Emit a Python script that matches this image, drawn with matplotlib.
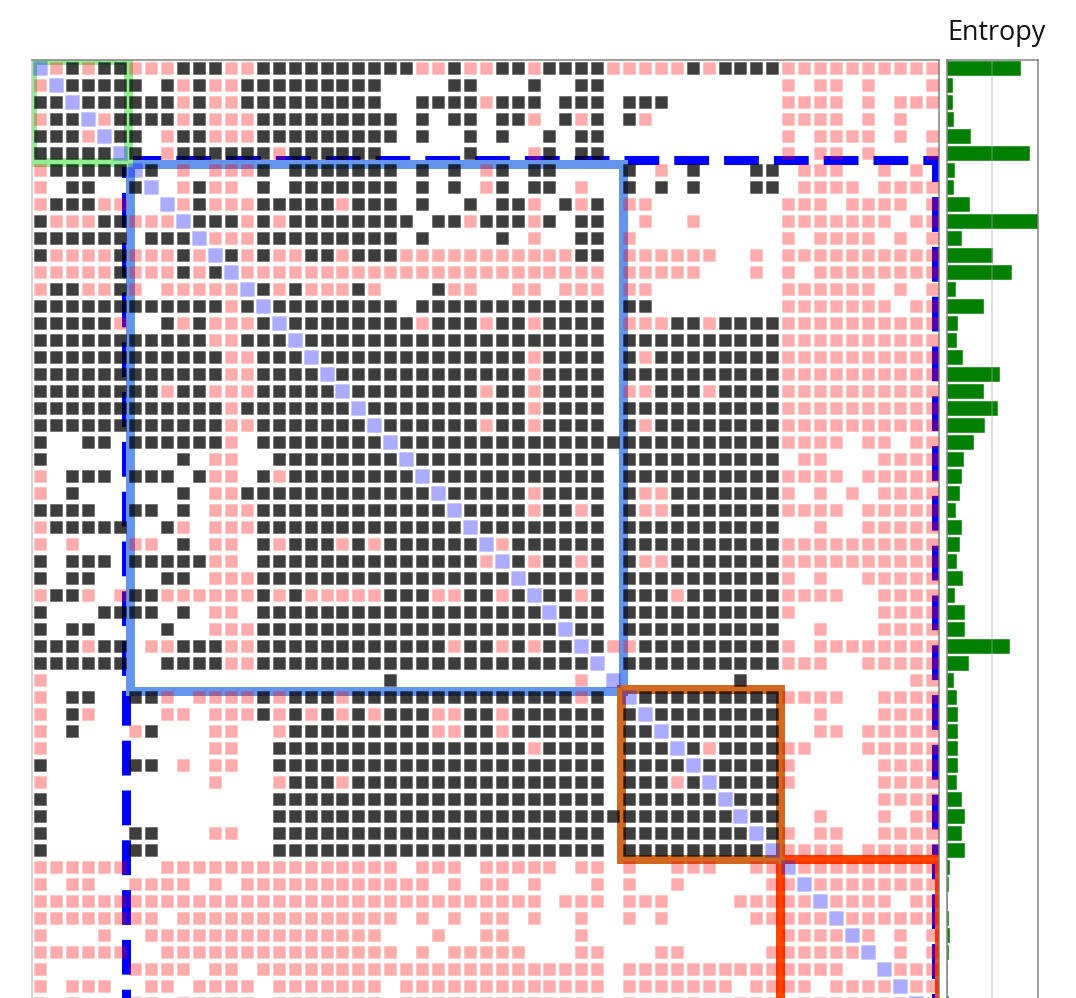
import numpy as np
import matplotlib
matplotlib.use("Agg")
import matplotlib.pyplot as plt
from matplotlib.patches import Rectangle

plt.rcParams["font.family"] = ["Open Sans", "DejaVu Sans"]

# cell states per row: # dark, p pink, D diagonal, . empty (spaces only split every 10 columns)
ROWS = [
    "Dp#p##ppp# ##pp###### ####pp#pp# #p####pppp p#p####ppp ppppppp",
    "pD#####.#p #pp####### ##....##.. .#..##.... .......p.p p.p...p",
    "##D######p #pp####### ##..####p# ##.###.### .......ppp p.p.ppp",
    "p##Dp####p #ppp###### ###.#.##.# #p.#p#.#p. .......ppp p.p.p..",
    "###pD##.p# #ppp###### ###.#..#.# ..#.##.... .......p.p ppp.p.p",
    "#####D#.p# #####p#### ##.....#.. .p#.##.... .......p.p p.p...p",
    "p#####D#.p .ppp#.#### ###.#.#.p# .##....#.p .#...##.pp p..p.p.",
    "p.##..#D.p #pp.#.#### ###.#.#.p# .##.p..#.# .#...##.pp pp.pppp",
    "p###pp..Dp #ppp#####p ###.#..#.# #p.#p#.pp. .......ppp .pppp.p",
    "#ppp##pppD ###p#p#### ####.##p## #p#.##..p. .p.....ppp pppp.pp",
    "######.### Dppp###### ###.#....# .p..##.p.. .......p.p ppp.p.p",
    "#pppp#ppp# pD#p#pp##p ###ppppppp pppp##.ppp ppp..p.ppp ppppppp",
    "ppppp#ppp# p#Dppppppp pppppppppp pppppp.ppp pp...p.p.p ppppppp",
    "p##pp#p.pp pppD#p#ppp #p...#pp.. pp.ppp.pp. .......ppp ppp.p.p",
    "########## ##p#D##### ###.###### ######.##. .......ppp pppp.pp",
    "#####p..#p #ppp#D#### ####p###p# #p####.ppp ##p####ppp ppppppp",
    "########## #pp###D### ########## ######.### #######ppp ppppppp",
    "########## ##pp###D## ########## #p####.#p# #######ppp ppppppp",
    "########## ##pp####D# ########## #p####.### #######ppp ppppppp",
    "########p# #ppp#####D ########p# #p####.pp# ##p####ppp ppppppp",
    "########## ##p####### D######### #p####.### #######ppp ppppppp",
    "########## ##pp###### #D######p# #p####.#p# #######ppp ppppppp",
    "#..##.#### ##p.###### ##D####### ########## #######ppp p.pp.pp",
    "#........# .pp..##### ###D###### ######.### #######.pp ...pppp",
    "p.###.###. #pp.#p#### ####D##### ######.### #######ppp p.ppppp",
    "p.#......# .pp####### #####D#### #p####.#pp #######p.p .p.pppp",
    "####..##.# .ppp###### ######D### #p##p#.#pp #######ppp p.ppppp",
    "p#####..#p .ppp###### #######D## ######.### #######..p ..ppppp",
    "p.p...pp.# .pp.#p###p #p######Dp ######.### #######ppp ppppppp",
    "#.###.#### #pp.###### ########pD #p##p#.#pp #######ppp ppppppp",
    "#.##....## .ppp###### ########## D#####.### #######p.p ..ppppp",
    "p##p.p##pp pppp#p#ppp pp###pp##p #D##p#.### p######ppp p..pppp",
    "#...####.# .pp.###### ########## ##D###.### #######p.. ...pppp",
    "#.##....#. .ppp###### ########## ###D##.### #######..p ...pppp",
    "###p##.pp# ##pp###### ######p##p #p##D#pp## #######p.p ppppppp",
    "######..## ##pp###### ########## #####D.### #######ppp ..ppppp",
    "p......... .......... ..#....... ....p.D... ....#..... .....pp",
    "p.##..##p. pppp#p###p ########## ####p#.D## #######ppp p..pppp",
    "p.#p....pp .ppp#p#p#p #p###pp##p ######.#D# #######..p ...pppp",
    "p.#...p#.. .pp..p#### #####pp##p ######.##D #######..p p.ppppp",
    "p......... .pp..##### ########## #p####.### D#p####pp. ..ppppp",
    "#.....##.p .pp..##### ########## ######.### #D#####p.. ...pppp",
    "p......... .p...p###p ########## ######.### p#D####p.. ...pppp",
    "#......... .....##### ########## ######.### ###D###... ...pppp",
    "#......... .....##### ########## ########## ####D##..p ...p.pp",
    "#.....##.. .pp..##### ########## ######.### #####D#p.p p..pppp",
    "#.....##.. .....##### ########## ######.### ######Dppp p.ppppp",
    "pppppp..pp pppppppppp ppp.ppp.pp ppp.pp.p.. ppp..ppDpp ppppppp",
    "p.pp..pppp .p.ppppppp ppppp.p.pp .p...p.p.. p.....ppDp ppppppp",
    "pppppppppp pppppppppp pppppppppp pp.ppp.ppp ....pppppD pppp.pp",
    "pppppppp.p pppppppppp ppp.p.p.pp .p..p..p.p .....ppppp Dpppppp",
    "p...p..ppp pppppppppp pp...p..pp ....p..... .......ppp pDp.p.p",
    "pppppp..pp pppppppppp ppp.p.pppp p...pp...p p.....pppp ppD.p.p",
    "p.....pppp .pp.pppppp pppppppppp pppppp.ppp pppppppppp p..Dppp",
    "p.ppp..pp. pppp.ppppp pp.ppppppp pppppp.ppp pppp.pppp. ppppDpp",
    "p.p...pp.p pppp.ppppp pp.ppppppp pppppp.p.. pp..ppp.pp pppppDp",
]

ENTROPY = [
    0.81, 0.055, 0.055, 0.066, 0.257, 0.904, 0.077, 0.066, 0.25, 1.0,
    0.154, 0.496, 0.71, 0.088, 0.397, 0.11, 0.10, 0.17, 0.58, 0.397,
    0.56, 0.41, 0.294, 0.18, 0.154, 0.132, 0.088, 0.154, 0.132, 0.10,
    0.17, 0.077, 0.19, 0.19, 0.684, 0.235, 0.066, 0.10, 0.12, 0.12,
    0.12, 0.12, 0.10, 0.154, 0.19, 0.154, 0.19, 0.03, 0.018, 0.0,
    0.018, 0.03, 0.018, 0.0, 0.0, 0.018,
]

N = 57
W, H = 1076, 998
PX = 72 / 100  # points per pixel

grid = np.array([list(r.replace(" ", "")) for r in ROWS])

fig = plt.figure(figsize=(W / 100, H / 100), dpi=100, facecolor="white")

# the matrix runs off the bottom of the picture
top, bottom = 59.5, 59.5 + 17 * N
ax = fig.add_axes([32 / W, 1 - bottom / H, 907.5 / W, (bottom - top) / H])
ax.set_xlim(0, N)
ax.set_ylim(N, 0)
ax.set_xticks([])
ax.set_yticks([])
ax.spines["bottom"].set_visible(False)
ax.spines["left"].set_color("#c8c8c8")
ax.spines["top"].set_color("#808080")
ax.spines["right"].set_color("#808080")
for sp in ax.spines.values():
    sp.set_linewidth(1.5 * PX)

# ── community boxes, under the cells ──
def box(x0, y0, x1, y1, color, z):
    ax.add_patch(Rectangle((x0, y0), x1 - x0, y1 - y0, fill=False, edgecolor=color,
                           lw=9 * PX, zorder=z, joinstyle="miter"))

# dashed box in two strokes: agg restarts the dash pattern where a path leaves the canvas
ON, OFF = 34.8 / 9, 15 / 9
ax.plot([5.93, 56.8, 56.8], [5.94, 5.94, 58], color="#0000ff", lw=9 * PX, zorder=1,
        linestyle=(0, (ON, OFF)), dash_joinstyle="miter")
ax.plot([5.93, 5.93], [58, 5.94], color="#0000ff", lw=9 * PX, zorder=1,
        linestyle=(25 / 9, (ON, OFF)))

box(47, 47, 57, 57, "#ff4500", 1.2)
box(6.14, 6.14, 37.13, 37.14, "#6495ed", 1.4)
box(37, 37, 47, 47, "#d2691e", 1.6)
box(0, 0, 6, 6, "#90ee90", 1.8)

# ── cells ──
def cells(state, size, face, edge, z):
    rows, cols = np.where(grid == state)
    ax.scatter(cols + 0.5, rows + 0.5, s=(size * PX) ** 2, marker="s",
               facecolors=[face], edgecolors=[edge], linewidths=1.0 * PX, zorder=z)

cells("p", 12.0, (1, 0, 0, 0.33), (1, 0, 0, 0.08), 3)
cells("#", 12.0, (0, 0, 0, 0.76), (0, 0, 0, 0.25), 3)
cells("D", 14.0, (0, 0, 1, 0.33), (0, 0, 1, 0.06), 4)

# ── entropy bars ──
ax_e = fig.add_axes([946.5 / W, 1 - bottom / H, 91 / W, (bottom - top) / H])
ax_e.set_xlim(0, 1)
ax_e.set_ylim(N, 0)
ax_e.set_xticks([])
ax_e.set_yticks([])
ax_e.spines["bottom"].set_visible(False)
for sp in ax_e.spines.values():
    sp.set_color("#808080")
    sp.set_linewidth(1.5 * PX)
ax_e.barh(np.arange(len(ENTROPY)) + 0.5, ENTROPY, height=0.78, color="#008000",
          edgecolor="#008000", linewidth=0.4, zorder=2)
ax_e.axvline(0.496, color="#aaaaaa", lw=1.5 * PX, alpha=0.5, zorder=3)

fig.text(947 / W, 1 - 40 / H, "Entropy", fontsize=27 * PX, color="#111111",
         ha="left", va="baseline")

fig.savefig("out.png", dpi=100, facecolor="white")
